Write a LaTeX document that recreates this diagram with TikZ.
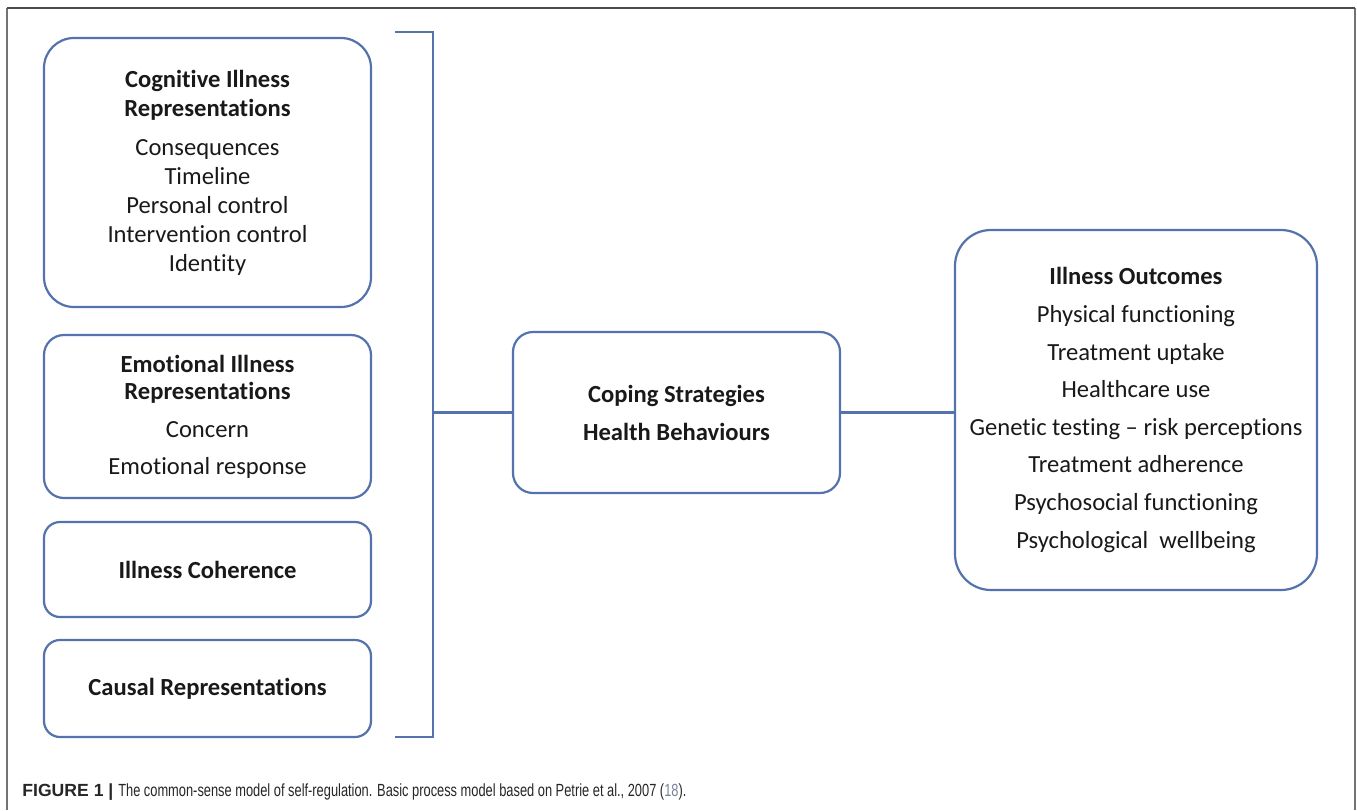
\documentclass[tikz,border=0pt]{standalone}
\usepackage{fontspec}
\setmainfont[Ligatures=NoCommon]{Carlito}
\newfontfamily\capfont[FakeStretch=0.73]{Liberation Sans}
\newfontfamily\capbold{Liberation Sans}
\definecolor{boxline}{RGB}{84,114,172}
\definecolor{refgray}{RGB}{120,130,155}

\begin{document}
\begin{tikzpicture}[x=0.5pt,y=-0.5pt,
    box/.style={draw=boxline,line width=1.1pt,align=center,inner sep=0pt,text=black!90,font=\fontsize{12.3}{14.5}\selectfont},
    link/.style={draw=boxline,line width=1.1pt}]
        \useasboundingbox (0,0) rectangle (1357,810);
        \draw[line width=0.8pt,black!55](7,810)--(7,8);
        \draw[line width=0.8pt,black!55](1355,8)--(1355,810);
        \draw[line width=1.1pt,black!70](7,8)--(1355,8);

        \node[box,rounded corners=15pt,minimum width=163.5pt,minimum height=134.5pt](cog) at (207.5,172.5){\textbf{Cognitive Illness}\\\textbf{Representations}\\[5pt]Consequences\\Timeline\\Personal control\\Intervention control\\Identity};
        \node[box,rounded corners=10pt,minimum width=163.5pt,minimum height=81.5pt,font=\fontsize{12.3}{13.8}\selectfont](emo) at (207.5,416.5){\textbf{Emotional Illness}\\\textbf{Representations}\\[5pt]Concern\\[4.5pt]Emotional response};
        \node[box,rounded corners=8pt,minimum width=163.5pt,minimum height=47.5pt](coh) at (207.5,569.5){\textbf{Illness Coherence}};
        \node[box,rounded corners=8pt,minimum width=163.5pt,minimum height=48.5pt](cau) at (207.5,688.5){\textbf{Causal Representations}};

        \coordinate(bt) at (433,32);
        \coordinate(bb) at (433,737);
        \coordinate(bm) at (433,412.5);
        \draw[link](395,32)--(bt)--(bb)--(395,737);

        \node[box,rounded corners=10pt,minimum width=163.5pt,minimum height=80.5pt,font=\fontsize{12.3}{19}\selectfont](cope) at (676.5,412.5){\textbf{Coping Strategies}\\\textbf{Health Behaviours}};
        \node[box,rounded corners=18pt,minimum width=181pt,minimum height=180pt,font=\fontsize{12.3}{18.8}\selectfont](out) at (1136,410){\textbf{Illness Outcomes}\\Physical functioning\\Treatment uptake\\Healthcare use\\Genetic testing -- risk perceptions\\Treatment adherence\\Psychosocial functioning\\Psychological\ \ wellbeing};

        \draw[link](bm)--(cope.west);
        \draw[link](cope.east)--(cope.east -| out.west);

        \node[anchor=base west,inner sep=0pt,text=black!85](cap) at (22,796){\capbold\fontsize{8.8}{10}\selectfont\textbf{FIGURE 1 |} \capfont The common-sense model of self-regulation. Basic process model based on Petrie et al., 2007 (\textcolor{refgray}{18}).};
    \end{tikzpicture}
\end{document}
